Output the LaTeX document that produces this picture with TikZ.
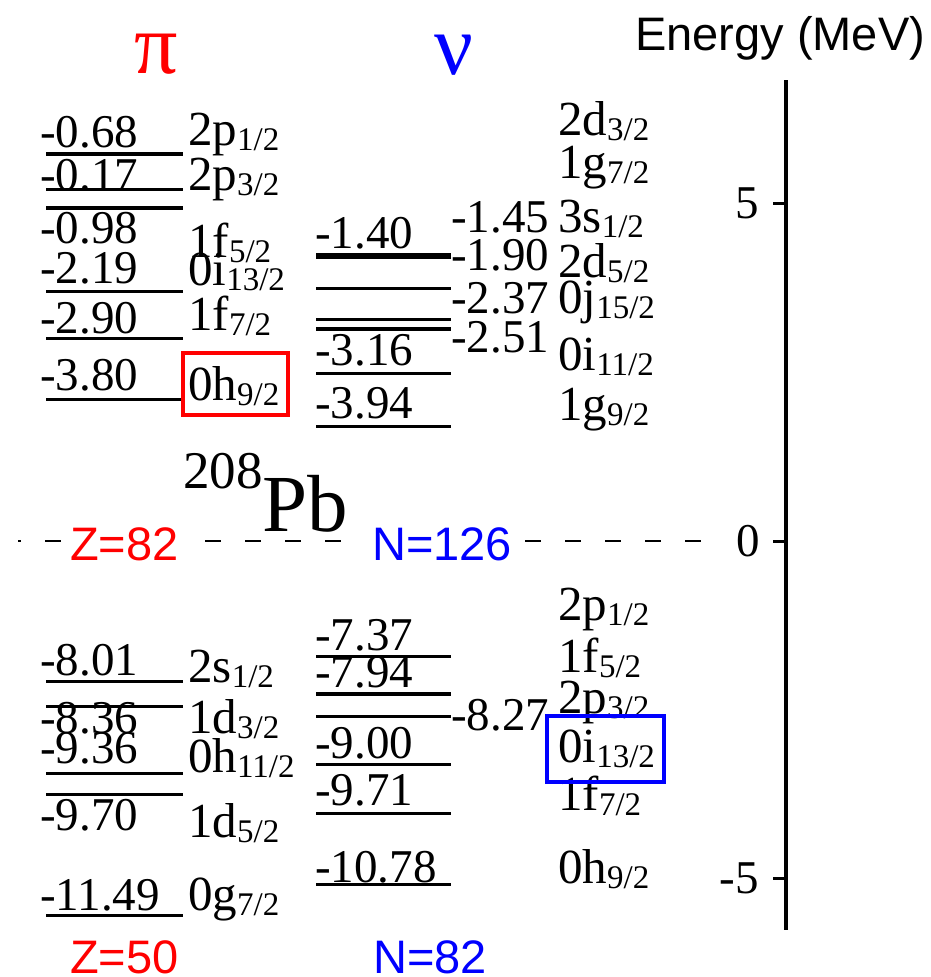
\documentclass[tikz,border=0pt]{standalone}
\usepackage{fontspec}
\setmainfont{Liberation Serif}
\newfontfamily\arialfont{Liberation Sans}
\usetikzlibrary{positioning}
\newcommand{\orbj}[2]{#1\raisebox{-5pt}{\fontsize{33}{33}\selectfont #2}}
\tikzset{
	lvl/.style={line width=3pt},
	lvlthick/.style={line width=5.5pt},
	enum/.style={anchor=base west, inner sep=0pt, font=\fontsize{47}{47}\selectfont},
	orb/.style={anchor=base west, inner sep=0pt, font=\fontsize{49}{49}\selectfont},
	magic/.style={anchor=base west, inner xsep=7pt, inner ysep=0pt, fill=white, font=\arialfont\fontsize{47}{47}\selectfont},
	hlbox/.style={line width=4pt},
	zeroline/.style={line width=2.5pt, dash pattern=on 16pt off 24pt, dash phase=13pt},
	tick/.style={line width=3pt}
}
\begin{document}
\begin{tikzpicture}[x=1pt, y=-1pt]
	\useasboundingbox (0,0) rectangle (930,977);
	% headers
	\node[anchor=base, inner sep=0pt, text=red, font=\fontsize{86}{86}\selectfont] (pi) at (156,73) {π};
	\node[anchor=base, inner sep=0pt, text=blue, font=\fontsize{86}{86}\selectfont] (nu) at (454,74) {ν};
	\node[anchor=base west, inner sep=0pt, font=\arialfont\fontsize{47}{47}\selectfont] (energy) at (635,50) {Energy (MeV)};
	\node[anchor=base west, inner sep=0pt, font=\fontsize{81}{81}\selectfont] (pb) at (183,531) {\raisebox{43pt}{\fontsize{53}{53}\selectfont 208}Pb};

	% zero line
	\coordinate (zl) at (18,541);
	\coordinate (zr) at (703,541);
	\draw[zeroline] (zl) -- (zr);
	\node[magic, text=red] (z82) at (63,560) {Z=82};
	\node[magic, text=blue] (n126) at (365,560) {N=126};
	\node[magic, text=red] (z50) at (63,973) {Z=50};
	\node[magic, text=blue] (n82) at (366,973) {N=82};

	% axis
	\coordinate (atop) at (786,80);
	\coordinate (abot) at (786,930);
	\draw[line width=3.5pt] (atop) -- (abot);
	\draw[tick] (773,203) -- (786,203);
	\draw[tick] (773,541) -- (786,541);
	\draw[tick] (773,878) -- (786,878);
	\node[anchor=east, inner sep=0pt, font=\fontsize{47}{47}\selectfont] (t5) at (759,203) {5};
	\node[anchor=east, inner sep=0pt, font=\fontsize{47}{47}\selectfont] (t0) at (760,541) {0};
	\node[anchor=east, inner sep=0pt, font=\fontsize{47}{47}\selectfont] (tm5) at (759,878) {-5};

	% protons above Z=82
	\draw[lvl, line width=4pt] (46,154) -- (183,154);
	\draw[lvl] (46,189) -- (183,189);
	\draw[lvl, line width=4.5pt] (46,208) -- (183,208);
	\draw[lvl] (46,291) -- (183,291);
	\draw[lvl] (46,338) -- (183,338);
	\draw[lvl] (46,399) -- (183,399);
	\node[enum] (ep068) at (40,147) {-0.68};
	\node[enum] (ep017) at (40,190) {-0.17};
	\node[enum] (ep098) at (40,243) {-0.98};
	\node[enum] (ep219) at (40,283) {-2.19};
	\node[enum] (ep290) at (40,333) {-2.90};
	\node[enum] (ep380) at (40,390) {-3.80};
	\node[orb] (p2p1) at (188,145) {\orbj{2p}{1/2}};
	\node[orb] (p2p3) at (188,190) {\orbj{2p}{3/2}};
	\node[orb] (p1f5) at (188,257) {\orbj{1f}{5/2}};
	\node[orb] (p0i13) at (188,285) {\orbj{0i}{13/2}};
	\node[orb] (p1f7) at (188,330) {\orbj{1f}{7/2}};
	\node[orb] (p0h9) at (188,400) {\orbj{0h}{9/2}};
	\draw[hlbox, red] (183,353) rectangle (288,415);

	% neutrons above N=126
	\draw[lvlthick] (316,256) -- (451,256);
	\draw[lvl] (316,288) -- (451,288);
	\draw[lvl] (316,319) -- (451,319);
	\draw[lvl, line width=4.5pt] (316,329) -- (451,329);
	\draw[lvl] (316,373) -- (451,373);
	\draw[lvl] (316,426) -- (451,426);
	\node[enum] (en140) at (315,248) {-1.40};
	\node[enum] (en316) at (315,365) {-3.16};
	\node[enum] (en394) at (315,418) {-3.94};
	\node[enum] (en145) at (451,232) {-1.45};
	\node[enum] (en190) at (451,270) {-1.90};
	\node[enum] (en237) at (451,313) {-2.37};
	\node[enum] (en251) at (451,352) {-2.51};
	\node[orb] (n2d3) at (558,135) {\orbj{2d}{3/2}};
	\node[orb] (n1g7) at (558,178) {\orbj{1g}{7/2}};
	\node[orb] (n3s1) at (558,232) {\orbj{3s}{1/2}};
	\node[orb] (n2d5) at (558,277) {\orbj{2d}{5/2}};
	\node[orb] (n0j15) at (558,313) {\orbj{0j}{15/2}};
	\node[orb] (n0i11) at (558,370) {\orbj{0i}{11/2}};
	\node[orb] (n1g9) at (558,420) {\orbj{1g}{9/2}};

	% protons below Z=82
	\draw[lvl] (46,681) -- (183,681);
	\draw[lvl] (46,706) -- (183,706);
	\draw[lvl] (46,773) -- (183,773);
	\draw[lvl] (46,794) -- (183,794);
	\draw[lvl] (46,915) -- (183,915);
	\node[enum] (ep801) at (40,675) {-8.01};
	\node[enum] (ep836) at (40,733) {-8.36};
	\node[enum] (ep936) at (40,763) {-9.36};
	\node[enum] (ep970) at (40,830) {-9.70};
	\node[enum] (ep1149) at (40,910) {-11.49};
	\node[orb] (p2s1) at (188,682) {\orbj{2s}{1/2}};
	\node[orb] (p1d3) at (188,733) {\orbj{1d}{3/2}};
	\node[orb] (p0h11) at (188,772) {\orbj{0h}{11/2}};
	\node[orb] (p1d5) at (188,837) {\orbj{1d}{5/2}};
	\node[orb] (p0g7) at (188,910) {\orbj{0g}{7/2}};

	% neutrons below N=126
	\draw[lvl] (316,656) -- (451,656);
	\draw[lvl, line width=4.3pt] (316,694) -- (451,694);
	\draw[lvl] (316,716) -- (451,716);
	\draw[lvl] (316,764) -- (451,764);
	\draw[lvl] (316,813) -- (451,813);
	\draw[lvl] (316,884) -- (451,884);
	\node[enum] (en737) at (315,650) {-7.37};
	\node[enum] (en794) at (315,687) {-7.94};
	\node[enum] (en900) at (315,758) {-9.00};
	\node[enum] (en971) at (315,805) {-9.71};
	\node[enum] (en1078) at (315,882) {-10.78};
	\node[enum] (en827) at (451,730) {-8.27};
	\node[orb] (n2p1) at (558,620) {\orbj{2p}{1/2}};
	\node[orb] (n1f5) at (558,672) {\orbj{1f}{5/2}};
	\node[orb] (n2p3) at (558,713) {\orbj{2p}{3/2}};
	\node[orb] (n0i13) at (558,762) {\orbj{0i}{13/2}};
	\node[orb] (n1f7) at (558,810) {\orbj{1f}{7/2}};
	\node[orb] (n0h9) at (558,883) {\orbj{0h}{9/2}};
	\draw[hlbox, blue] (547,716) rectangle (664,782);
\end{tikzpicture}
\end{document}
